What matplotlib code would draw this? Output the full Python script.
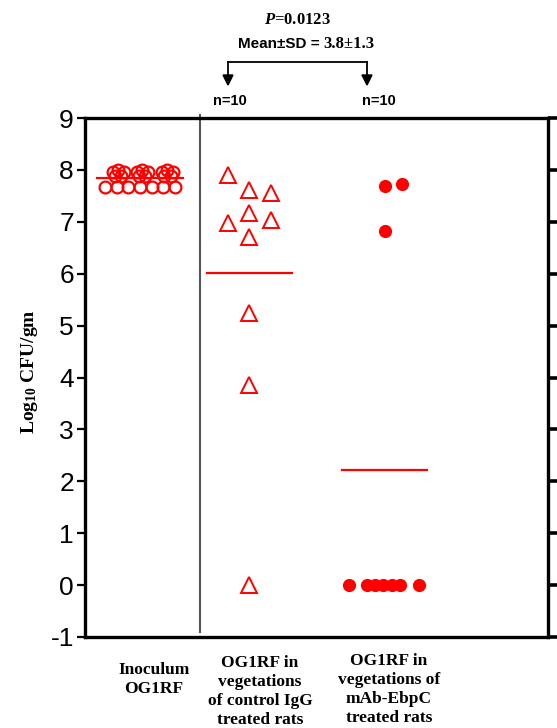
import matplotlib.pyplot as plt
import numpy as np

plt.rcParams["mathtext.fontset"] = "custom"
plt.rcParams["mathtext.rm"] = "Liberation Serif:bold"
plt.rcParams["mathtext.bf"] = "Liberation Serif:bold"
plt.rcParams["mathtext.it"] = "Liberation Serif:italic:bold"
plt.rcParams["axes.unicode_minus"] = False

# Значения log10 КОЕ/г по группам
inoculum_vals = [7.95, 7.99, 7.95, 7.88, 7.88,
                 7.95, 7.99, 7.95, 7.88, 7.88,
                 7.95, 7.99, 7.95, 7.88, 7.88,
                 7.68, 7.68, 7.68, 7.68, 7.68, 7.68, 7.68]
inoculum_jitter = [-0.25, -0.2, -0.15, -0.23, -0.17,
                   -0.03, 0.02, 0.07, -0.01, 0.05,
                   0.2, 0.25, 0.3, 0.22, 0.28,
                   -0.32, -0.21, -0.11, 0.0, 0.11, 0.21, 0.32]

igg_vals = [7.90, 7.61, 7.56, 7.17, 6.98, 7.04, 6.71, 5.25, 3.85, 0.0]
igg_jitter = [-0.2, 0.0, 0.2, 0.0, -0.2, 0.2, 0.0, 0.0, 0.0, 0.0]

ebpc_vals = [7.69, 7.72, 6.83, 0.0, 0.0, 0.0, 0.0, 0.0, 0.0, 0.0]
ebpc_jitter = [0.0, 0.16, 0.0, -0.324, -0.16, -0.087, -0.014, 0.068, 0.142, 0.315]

group_x = [1.0, 2.0, 3.233]
group_labels = ["Inoculum\nOG1RF",
                "OG1RF in\nvegetations\nof control IgG\ntreated rats",
                "OG1RF in\nvegetations of\nmAb-EbpC\ntreated rats"]
n_labels = ["n=10", "n=10"]
p_text = r"$\mathit{P}$=0.0123"
mean_sd_left = "Mean±SD ="
mean_sd_right = "3.8±1.3"

W, H = 557, 728


def fx(px):
    return px / W


def fy(py):
    return 1 - py / H


fig = plt.figure(figsize=(W / 100, H / 100), dpi=100)
ax = fig.add_axes([fx(85), fy(637), fx(548) - fx(85), fy(118) - fy(637)])

red = "#ff0000"

# Исходный инокулят — открытые кружки
ax.plot(group_x[0] + np.array(inoculum_jitter), inoculum_vals, "o", ms=8.5,
        mfc="none", mec=red, mew=1.6, clip_on=False)
# Контрольный IgG — открытые треугольники
ax.plot(group_x[1] + np.array(igg_jitter), igg_vals, "^", ms=11,
        mfc="none", mec=red, mew=1.4, clip_on=False)
# mAb-EbpC — закрашенные кружки
ax.plot(group_x[2] + np.array(ebpc_jitter), ebpc_vals, "o", ms=9.5,
        mfc=red, mec=red, mew=0, clip_on=False)

# Средние значения
for xc, vals in zip(group_x, [inoculum_vals, igg_vals, ebpc_vals]):
    m = np.mean(vals)
    ax.plot([xc - 0.39, xc + 0.39], [m, m], color=red, lw=1.6)

ax.set_xlim(0.498, 4.726)
ax.set_ylim(-1, 9)
ax.set_yticks(range(-1, 10))
ax.set_xticks([])

# Разделитель между инокулятом и группами животных
ax.axvline(1.548, ymin=0.01, ymax=1.006, color="#555555", lw=1.5, clip_on=False)

for side in ["left", "top", "bottom", "right"]:
    ax.spines[side].set_linewidth(2.4)
    ax.spines[side].set_color("black")

ax.tick_params(axis="y", which="both", direction="out", length=6, width=1.6,
               labelsize=19, pad=2, right=True, labelright=False)
for lab in ax.get_yticklabels():
    lab.set_fontfamily("Liberation Sans")
for t in ax.yaxis.get_major_ticks():
    t.tick2line.set_markersize(10)
    t.tick2line.set_markeredgewidth(2.6)

fig.text(fx(29), fy(372), r"Log$_{\mathbf{10}}$ CFU/gm", rotation=90,
         ha="center", va="center", fontsize=14,
         family="Liberation Serif", weight="bold")

# Подписи групп под осью
label_px = [(154, 662), (260, 655), (389, 653)]
for (lx, ly), text in zip(label_px, group_labels):
    fig.text(fx(lx), fy(ly), text, ha="center", va="top", fontsize=12.5,
             family="Liberation Serif", weight="bold", linespacing=1.25)

# Заголовок с p-значением и скобка со стрелками
fig.text(fx(297), fy(20), p_text, ha="center", va="center", fontsize=12,
         family="Liberation Serif", weight="bold")
fig.text(fx(320), fy(44), mean_sd_left, ha="right", va="center", fontsize=11,
         family="Liberation Sans", weight="bold")
fig.text(fx(323), fy(44), mean_sd_right, ha="left", va="center", fontsize=12,
         family="Liberation Serif", weight="bold")

bx = [228, 367]
fig.add_artist(plt.Line2D([fx(bx[0]), fx(bx[1])], [fy(62), fy(62)],
                          color="black", lw=1.3))
for x0 in bx:
    fig.add_artist(plt.Line2D([fx(x0), fx(x0)], [fy(62), fy(76)],
                              color="black", lw=1.3))
    fig.add_artist(plt.Polygon([[fx(x0 - 5), fy(75)], [fx(x0 + 5), fy(75)],
                                [fx(x0), fy(85)]], closed=True,
                               color="black", transform=fig.transFigure))

for x0, lab in zip([230, 379], n_labels):
    fig.text(fx(x0), fy(101), lab, ha="center", va="center", fontsize=10.5,
             family="Liberation Sans", weight="bold")

fig.savefig("out.png", dpi=100)
